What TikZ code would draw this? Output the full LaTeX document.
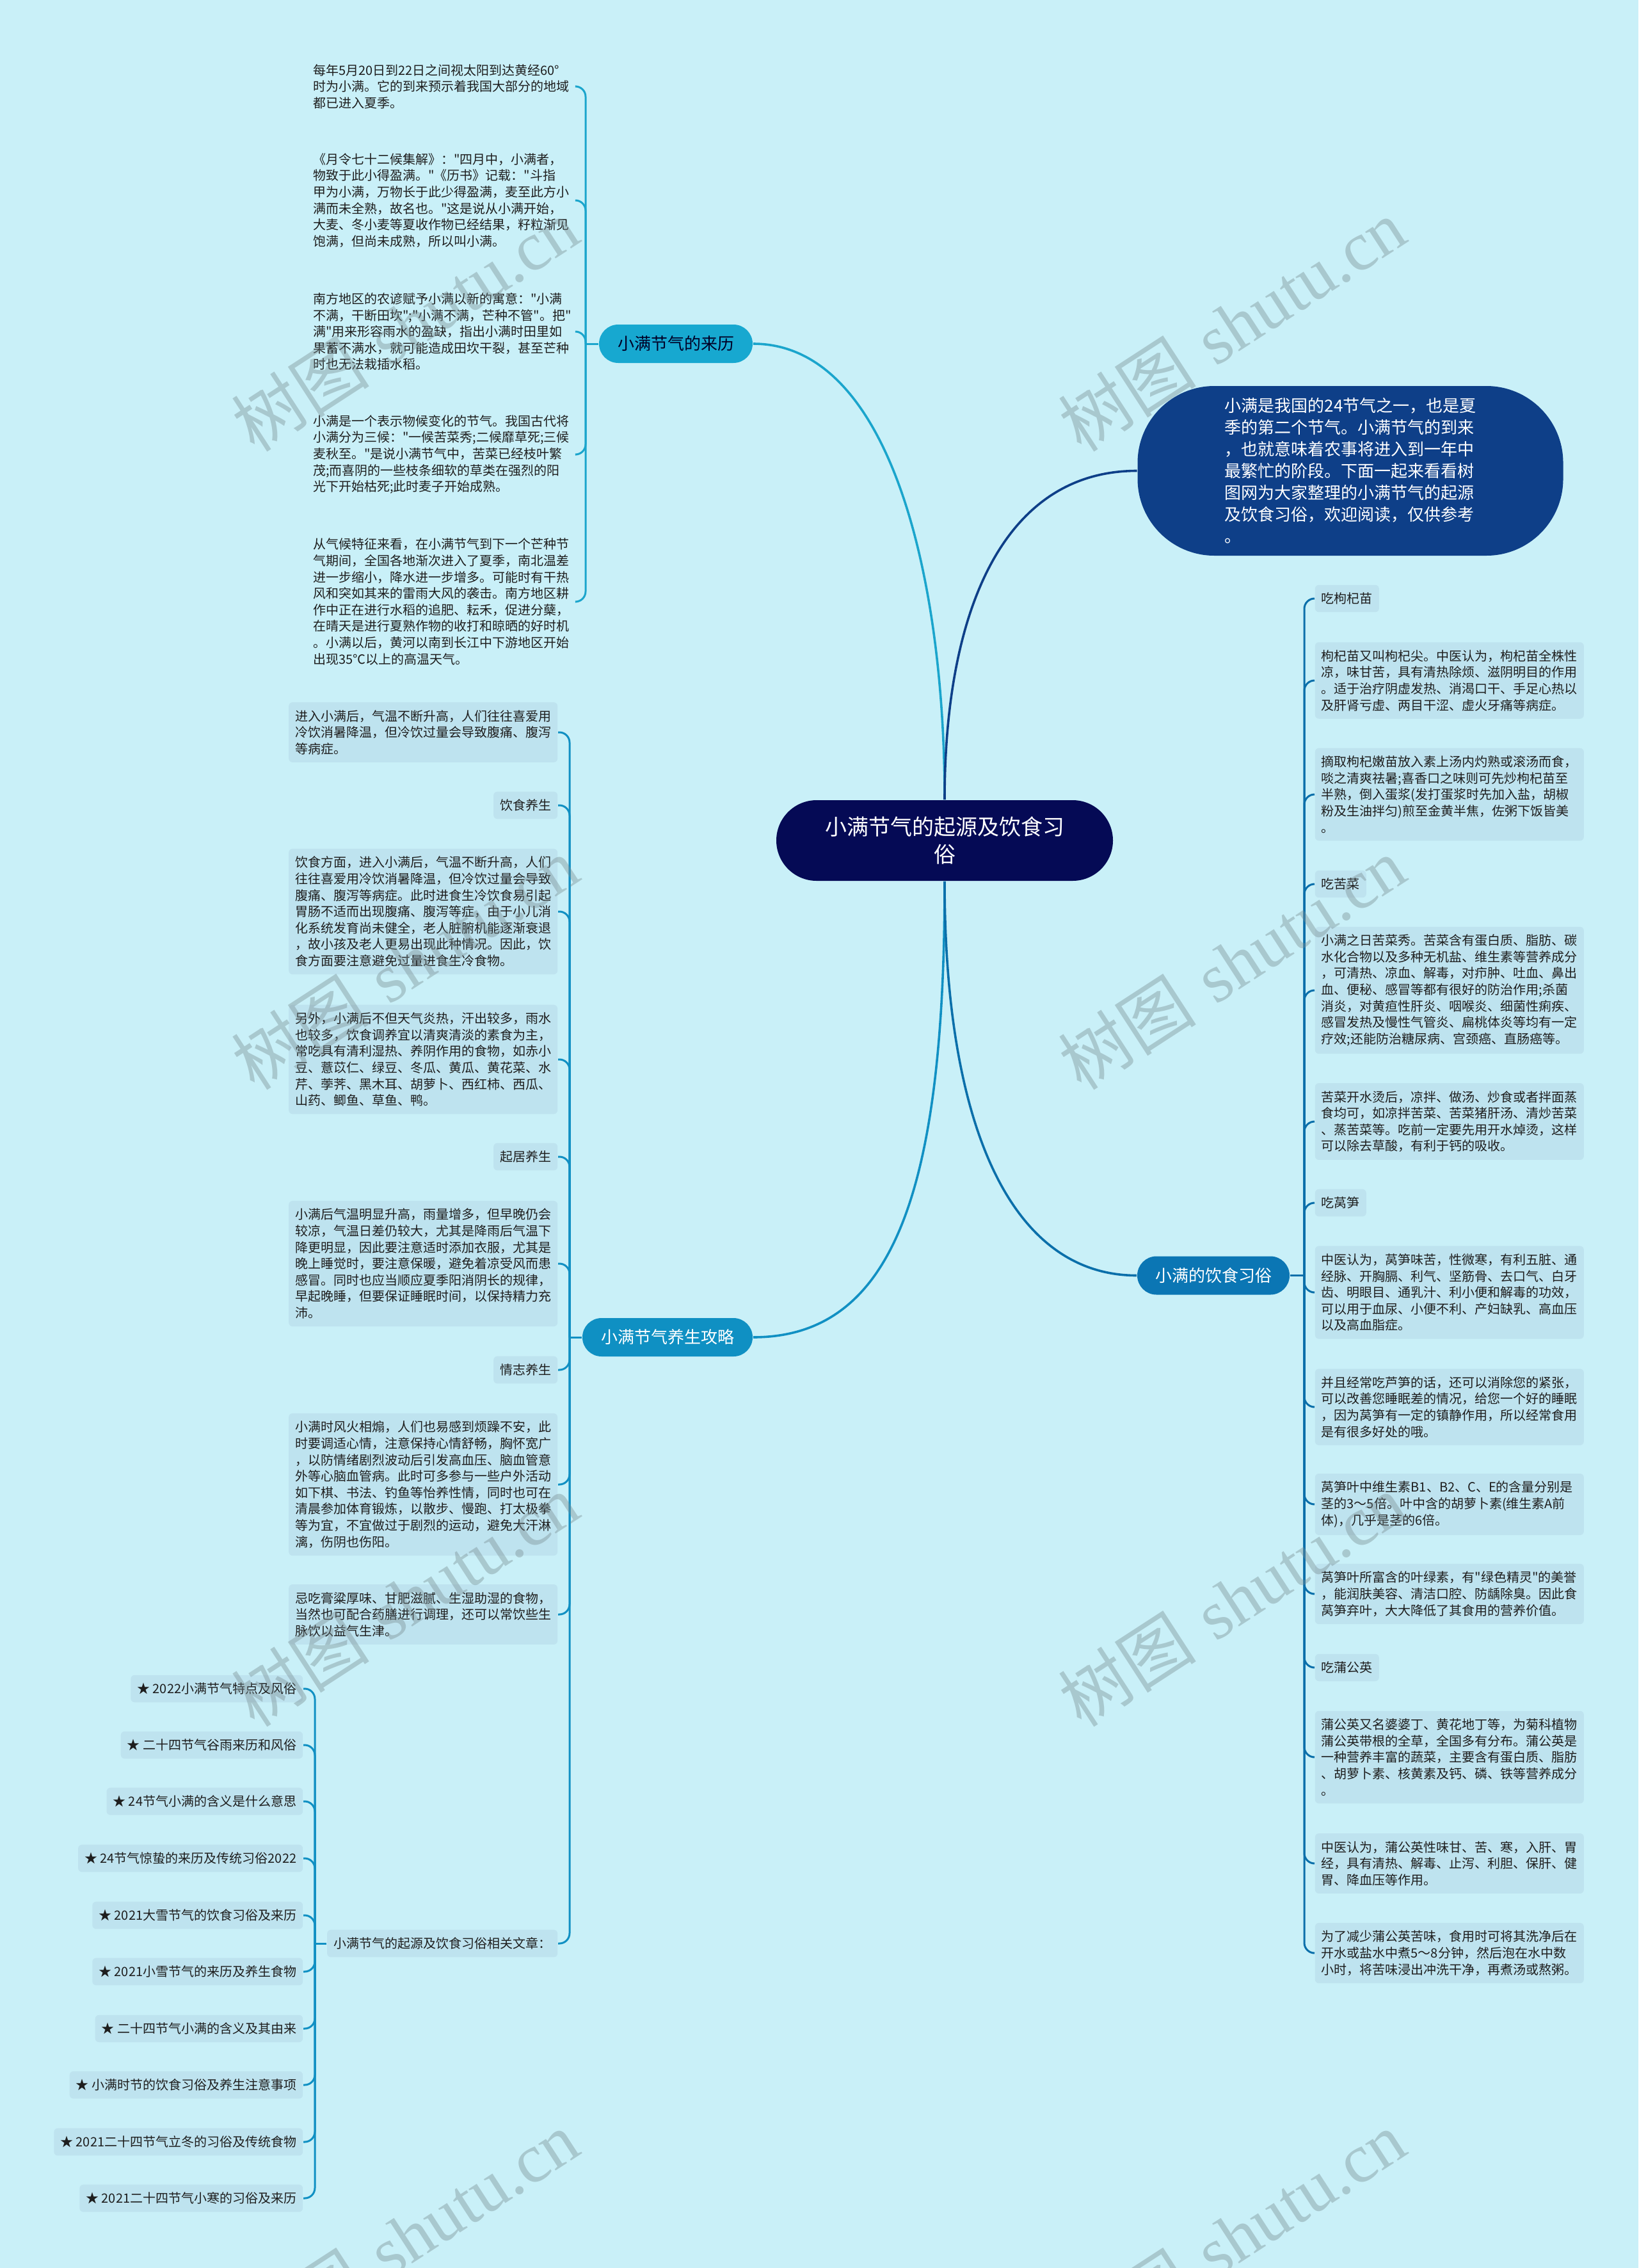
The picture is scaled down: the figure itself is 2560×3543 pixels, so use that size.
\documentclass[tikz,border=0pt]{standalone}
\usepackage{fontspec}
\newfontfamily\cjkmain{Noto Sans CJK SC}
\newfontfamily\wmlatin{Liberation Serif}
\usetikzlibrary{calc}
\definecolor{bgc}{HTML}{C9F0F8}
\definecolor{leafc}{HTML}{BEE3EF}
\definecolor{txtc}{HTML}{1E1E1E}
\definecolor{rootc}{HTML}{050A55}
\definecolor{introc}{HTML}{0E3F88}
\definecolor{laic}{HTML}{17A8D0}
\definecolor{yangc}{HTML}{0F90C3}
\definecolor{yinc}{HTML}{0B76B4}
\definecolor{lailine}{HTML}{1BA5CC}
\definecolor{yangline}{HTML}{1190C3}
\definecolor{yinline}{HTML}{0B6FAA}
\definecolor{wmc}{HTML}{788C91}
\newcommand\lffont{\cjkmain\fontsize{5pt}{6.4pt}\selectfont}
\newcommand\brfont{\cjkmain\fontsize{6.5pt}{8pt}\selectfont}
\begin{document}
\begin{tikzpicture}[x=0.25pt,y=-0.25pt,
  leafbox/.style={fill=leafc, rounded corners=1.5pt, text width=100pt, inner xsep=2.5pt, inner ysep=3pt, align=left, font=\lffont, text=txtc},
  leafplain/.style={text width=100pt, inner xsep=2.5pt, inner ysep=3pt, align=left, font=\lffont, text=txtc},
  tagbox/.style={fill=leafc, rounded corners=1.5pt, inner xsep=2.5pt, inner ysep=3pt, font=\lffont, text=txtc},
  rootstyle/.style={fill=rootc, text=white, rounded corners=15.75pt, minimum width=131.5pt, minimum height=31.5pt, inner sep=0pt, align=center, font=\cjkmain\fontsize{8.5pt}{10.75pt}\selectfont},
  introstyle/.style={fill=introc, text=white, rounded corners=30pt, minimum width=166.25pt, minimum height=66.25pt, inner sep=0pt, align=left, font=\cjkmain\fontsize{6.5pt}{8.5pt}\selectfont},
  brstyle/.style={rounded corners=7.5pt, minimum height=15pt, inner sep=0pt, font=\brfont},
  mainline/.style={line width=0.9pt},
  brack/.style={line width=0.75pt, rounded corners=4pt},
  wm/.style={text=wmc, opacity=0.4, rotate=33, font=\fontsize{27pt}{30pt}\selectfont}
]
\fill[bgc] (0,0) rectangle (2560,3543);
\useasboundingbox (0,0) rectangle (2560,3543);

% main nodes
\node[rootstyle] (root) at (1476,1313) {小满节气的起源及饮食习\\俗};
\node[introstyle] (intro) at (2110,735.5) {小满是我国的24节气之一，也是夏\\季的第二个节气。小满节气的到来\\，也就意味着农事将进入到一年中\\最繁忙的阶段。下面一起来看看树\\图网为大家整理的小满节气的起源\\及饮食习俗，欢迎阅读，仅供参考\\。};
\node[brstyle, fill=laic, text=black!85!blue, minimum width=60pt] (lai) at (1056,537) {小满节气的来历};
\node[brstyle, fill=yangc, text=white, minimum width=66.5pt] (yang) at (1043,2089) {小满节气养生攻略};
\node[brstyle, fill=yinc, text=white, minimum width=59.5pt] (yin) at (1896,1992.5) {小满的饮食习俗};

% main connectors
\draw[mainline, lailine] (root.north) .. controls (1476,900) and (1390,537) .. (lai.east);
\draw[mainline, introc] (root.north) .. controls (1476,950) and (1570,735.5) .. (intro.west);
\draw[mainline, yangline] (root.south) .. controls (1476,1850) and (1400,2089) .. (yang.east);
\draw[mainline, yinline] (root.south) .. controls (1476,1760) and (1580,1992.5) .. (yin.west);

% ---- 来历 children
\node[leafplain, anchor=east] (l1) at (900,135) {每年5月20日到22日之间视太阳到达黄经60°\\时为小满。它的到来预示着我国大部分的地域\\都已进入夏季。};
\node[leafplain, anchor=east] (l2) at (900,313) {《月令七十二候集解》："四月中，小满者，\\物致于此小得盈满。"《历书》记载："斗指\\甲为小满，万物长于此少得盈满，麦至此方小\\满而未全熟，故名也。"这是说从小满开始，\\大麦、冬小麦等夏收作物已经结果，籽粒渐见\\饱满，但尚未成熟，所以叫小满。};
\node[leafplain, anchor=east] (l3) at (900,518) {南方地区的农谚赋予小满以新的寓意："小满\\不满，干断田坎";"小满不满，芒种不管"。把"\\满"用来形容雨水的盈缺，指出小满时田里如\\果蓄不满水，就可能造成田坎干裂，甚至芒种\\时也无法栽插水稻。};
\node[leafplain, anchor=east] (l4) at (900,710) {小满是一个表示物候变化的节气。我国古代将\\小满分为三候："一候苦菜秀;二候靡草死;三候\\麦秋至。"是说小满节气中，苦菜已经枝叶繁\\茂;而喜阴的一些枝条细软的草类在强烈的阳\\光下开始枯死;此时麦子开始成熟。};
\node[leafplain, anchor=east] (l5) at (900,940) {从气候特征来看，在小满节气到下一个芒种节\\气期间，全国各地渐次进入了夏季，南北温差\\进一步缩小，降水进一步增多。可能时有干热\\风和突如其来的雷雨大风的袭击。南方地区耕\\作中正在进行水稻的追肥、耘禾，促进分蘖，\\在晴天是进行夏熟作物的收打和晾晒的好时机\\。小满以后，黄河以南到长江中下游地区开始\\出现35℃以上的高温天气。};
\coordinate (laiT) at (915,537);
\draw[brack, lailine] (lai.west) -- (laiT);
\foreach \n in {l1,l2,l3,l4,l5} \draw[brack, lailine] (laiT) -- (laiT |- \n.east) -- (\n.east);

% ---- 养生 children
\node[leafbox, anchor=east] (y1) at (872,1144) {进入小满后，气温不断升高，人们往往喜爱用\\冷饮消暑降温，但冷饮过量会导致腹痛、腹泻\\等病症。};
\node[tagbox, anchor=east] (y2) at (872,1258) {饮食养生};
\node[leafbox, anchor=east] (y3) at (872,1424) {饮食方面，进入小满后，气温不断升高，人们\\往往喜爱用冷饮消暑降温，但冷饮过量会导致\\腹痛、腹泻等病症。此时进食生冷饮食易引起\\胃肠不适而出现腹痛、腹泻等症，由于小儿消\\化系统发育尚未健全，老人脏腑机能逐渐衰退\\，故小孩及老人更易出现此种情况。因此，饮\\食方面要注意避免过量进食生冷食物。};
\node[leafbox, anchor=east] (y4) at (872,1655) {另外，小满后不但天气炎热，汗出较多，雨水\\也较多，饮食调养宜以清爽清淡的素食为主，\\常吃具有清利湿热、养阴作用的食物，如赤小\\豆、薏苡仁、绿豆、冬瓜、黄瓜、黄花菜、水\\芹、荸荠、黑木耳、胡萝卜、西红柿、西瓜、\\山药、鲫鱼、草鱼、鸭。};
\node[tagbox, anchor=east] (y5) at (872,1807) {起居养生};
\node[leafbox, anchor=east] (y6) at (872,1974) {小满后气温明显升高，雨量增多，但早晚仍会\\较凉，气温日差仍较大，尤其是降雨后气温下\\降更明显，因此要注意适时添加衣服，尤其是\\晚上睡觉时，要注意保暖，避免着凉受风而患\\感冒。同时也应当顺应夏季阳消阴长的规律，\\早起晚睡，但要保证睡眠时间，以保持精力充\\沛。};
\node[tagbox, anchor=east] (y7) at (872,2140) {情志养生};
\node[leafbox, anchor=east] (y8) at (872,2319) {小满时风火相煽，人们也易感到烦躁不安，此\\时要调适心情，注意保持心情舒畅，胸怀宽广\\，以防情绪剧烈波动后引发高血压、脑血管意\\外等心脑血管病。此时可多参与一些户外活动\\如下棋、书法、钓鱼等怡养性情，同时也可在\\清晨参加体育锻炼，以散步、慢跑、打太极拳\\等为宜，不宜做过于剧烈的运动，避免大汗淋\\漓，伤阴也伤阳。};
\node[leafbox, anchor=east] (y9) at (872,2522) {忌吃膏粱厚味、甘肥滋腻、生湿助湿的食物，\\当然也可配合药膳进行调理，还可以常饮些生\\脉饮以益气生津。};
\node[tagbox, anchor=east] (rel) at (872,3036) {小满节气的起源及饮食习俗相关文章：};
\coordinate (yangT) at (890,2089);
\draw[brack, yangline] (yang.west) -- (yangT);
\foreach \n in {y1,y2,y3,y4,y5,y6,y7,y8,y9,rel} \draw[brack, yangline] (yangT) -- (yangT |- \n.east) -- (\n.east);

% ---- related articles
\node[tagbox, anchor=east] (s1) at (474,2638) {★ 2022小满节气特点及风俗};
\node[tagbox, anchor=east] (s2) at (474,2726) {★ 二十四节气谷雨来历和风俗};
\node[tagbox, anchor=east] (s3) at (474,2814) {★ 24节气小满的含义是什么意思};
\node[tagbox, anchor=east] (s4) at (474,2903) {★ 24节气惊蛰的来历及传统习俗2022};
\node[tagbox, anchor=east] (s5) at (474,2992) {★ 2021大雪节气的饮食习俗及来历};
\node[tagbox, anchor=east] (s6) at (474,3080) {★ 2021小雪节气的来历及养生食物};
\node[tagbox, anchor=east] (s7) at (474,3169) {★ 二十四节气小满的含义及其由来};
\node[tagbox, anchor=east] (s8) at (474,3257) {★ 小满时节的饮食习俗及养生注意事项};
\node[tagbox, anchor=east] (s9) at (474,3346) {★ 2021二十四节气立冬的习俗及传统食物};
\node[tagbox, anchor=east] (s10) at (474,3434) {★ 2021二十四节气小寒的习俗及来历};
\coordinate (relT) at (492,3036);
\draw[brack, yangline] (rel.west) -- (relT);
\foreach \n in {s1,s2,s3,s4,s5,s6,s7,s8,s9,s10} \draw[brack, yangline] (relT) -- (relT |- \n.east) -- (\n.east);

% ---- 饮食 children
\node[tagbox, anchor=west] (r1) at (2054,935) {吃枸杞苗};
\node[leafbox, anchor=west] (r2) at (2054,1063) {枸杞苗又叫枸杞尖。中医认为，枸杞苗全株性\\凉，味甘苦，具有清热除烦、滋阴明目的作用\\。适于治疗阴虚发热、消渴口干、手足心热以\\及肝肾亏虚、两目干涩、虚火牙痛等病症。};
\node[leafbox, anchor=west] (r3) at (2054,1241) {摘取枸杞嫩苗放入素上汤内灼熟或滚汤而食，\\啖之清爽祛暑;喜香口之味则可先炒枸杞苗至\\半熟，倒入蛋浆(发打蛋浆时先加入盐，胡椒\\粉及生油拌匀)煎至金黄半焦，佐粥下饭皆美\\。};
\node[tagbox, anchor=west] (r4) at (2054,1381) {吃苦菜};
\node[leafbox, anchor=west] (r5) at (2054,1547) {小满之日苦菜秀。苦菜含有蛋白质、脂肪、碳\\水化合物以及多种无机盐、维生素等营养成分\\，可清热、凉血、解毒，对疖肿、吐血、鼻出\\血、便秘、感冒等都有很好的防治作用;杀菌\\消炎，对黄疸性肝炎、咽喉炎、细菌性痢疾、\\感冒发热及慢性气管炎、扁桃体炎等均有一定\\疗效;还能防治糖尿病、宫颈癌、直肠癌等。};
\node[leafbox, anchor=west] (r6) at (2054,1752) {苦菜开水烫后，凉拌、做汤、炒食或者拌面蒸\\食均可，如凉拌苦菜、苦菜猪肝汤、清炒苦菜\\、蒸苦菜等。吃前一定要先用开水焯烫，这样\\可以除去草酸，有利于钙的吸收。};
\node[tagbox, anchor=west] (r7) at (2054,1879) {吃莴笋};
\node[leafbox, anchor=west] (r8) at (2054,2019) {中医认为，莴笋味苦，性微寒，有利五脏、通\\经脉、开胸膈、利气、坚筋骨、去口气、白牙\\齿、明眼目、通乳汁、利小便和解毒的功效，\\可以用于血尿、小便不利、产妇缺乳、高血压\\以及高血脂症。};
\node[leafbox, anchor=west] (r9) at (2054,2198) {并且经常吃芦笋的话，还可以消除您的紧张，\\可以改善您睡眠差的情况，给您一个好的睡眠\\，因为莴笋有一定的镇静作用，所以经常食用\\是有很多好处的哦。};
\node[leafbox, anchor=west] (r10) at (2054,2350) {莴笋叶中维生素B1、B2、C、E的含量分别是\\茎的3～5倍。叶中含的胡萝卜素(维生素A前\\体)，几乎是茎的6倍。};
\node[leafbox, anchor=west] (r11) at (2054,2490) {莴笋叶所富含的叶绿素，有"绿色精灵"的美誉\\，能润肤美容、清洁口腔、防龋除臭。因此食\\莴笋弃叶，大大降低了其食用的营养价值。};
\node[tagbox, anchor=west] (r12) at (2054,2605) {吃蒲公英};
\node[leafbox, anchor=west] (r13) at (2054,2745) {蒲公英又名婆婆丁、黄花地丁等，为菊科植物\\蒲公英带根的全草，全国多有分布。蒲公英是\\一种营养丰富的蔬菜，主要含有蛋白质、脂肪\\、胡萝卜素、核黄素及钙、磷、铁等营养成分\\。};
\node[leafbox, anchor=west] (r14) at (2054,2911) {中医认为，蒲公英性味甘、苦、寒，入肝、胃\\经，具有清热、解毒、止泻、利胆、保肝、健\\胃、降血压等作用。};
\node[leafbox, anchor=west] (r15) at (2054,3051) {为了减少蒲公英苦味，食用时可将其洗净后在\\开水或盐水中煮5～8分钟，然后泡在水中数\\小时，将苦味浸出冲洗干净，再煮汤或熬粥。};
\coordinate (yinT) at (2038,1992.5);
\draw[brack, yinline] (yin.east) -- (yinT);
\foreach \n in {r1,r2,r3,r4,r5,r6,r7,r8,r9,r10,r11,r12,r13,r14,r15} \draw[brack, yinline] (yinT) -- (yinT |- \n.west) -- (\n.west);

% ---- watermarks
\foreach \wx in {633,1925} \foreach \wy in {508,1505,2500,3495}
  \node[wm] (wm-\wx-\wy) at (\wx,\wy) {{\cjkmain 树图} {\wmlatin shutu.cn}};
\end{tikzpicture}
\end{document}
